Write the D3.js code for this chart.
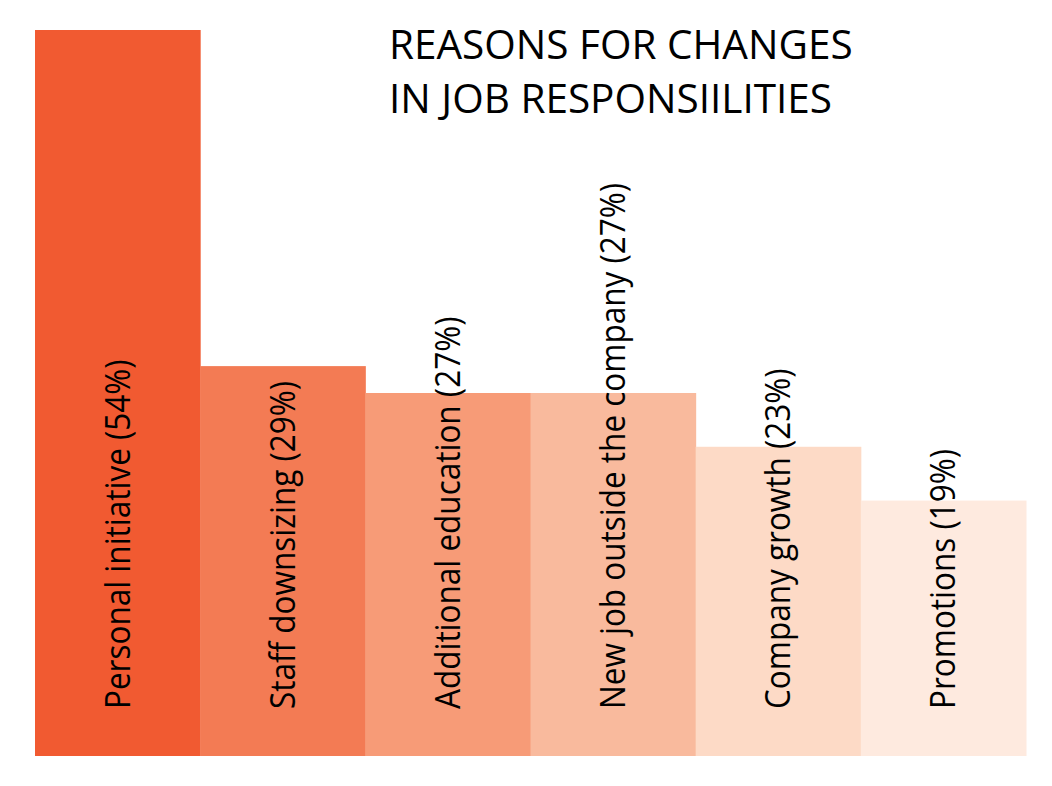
<!DOCTYPE html>
<html>
  <head>
    <meta charset="utf-8">
    <title>Reasons for changes in job responsibilities</title>
    <style>
      body {
        overflow: hidden;
        margin: 0px;
        background: white;
      }

      .title {
        font-family: "Open Sans", sans-serif;
        font-size: 40.5px;
        fill: black;
      }

      .label {
        font-family: "Open Sans", sans-serif;
        font-size: 35px;
        fill: black;
      }
    </style>
  </head>
  <body>
    <svg id="container"></svg>
    <script src="https://cdn.jsdelivr.net/npm/d3@7/dist/d3.min.js"></script>

    <script type="text/javascript">
      var categories = ['Personal initiative', 'Staff downsizing', 'Additional education',
        'New job outside the company', 'Company growth', 'Promotions'];
      var values = [54, 29, 27, 27, 23, 19];
      var colors = ['#F15A31', '#F37B54', '#F79B77', '#F9BA9D', '#FDDAC6', '#FEEADF'];
      var titleLines = ['REASONS FOR CHANGES', 'IN JOB RESPONSIILITIES'];

      var width = 1052,
        height = 786,
        bottom = 756,
        squeeze = 0.9, // labels in the original are set in a narrower face
        container = d3.select('#container');

      container.attr('width', width)
        .attr('height', height);

      var x = d3.scaleBand()
        .domain(categories)
        .range([35, 1026])
        .padding(0);

      var y = d3.scaleLinear()
        .domain([0, 54])
        .range([bottom, 30]);

      /*
        Bars
      */
      container.selectAll('rect.bar')
        .data(categories)
        .enter().append('rect')
        .attr('class', 'bar')
        .attr('x', function(d) { return x(d); })
        .attr('y', function(d, i) { return y(values[i]); })
        .attr('width', x.bandwidth() + 0.5)
        .attr('height', function(d, i) { return bottom - y(values[i]); })
        .attr('fill', function(d, i) { return colors[i]; });

      /*
        Rotated labels
      */
      container.selectAll('text.label')
        .data(categories)
        .enter().append('text')
        .attr('class', 'label')
        .attr('transform', function(d) {
          var cx = x(d) + x.bandwidth() / 2 + 12;
          return 'translate(' + cx + ',' + 709 + ') rotate(-90) scale(' + squeeze + ',1)';
        })
        .text(function(d, i) { return d + ' (' + values[i] + '%)'; });

      /*
        Title
      */
      container.selectAll('text.title')
        .data(titleLines)
        .enter().append('text')
        .attr('class', 'title')
        .attr('x', 389)
        .attr('y', function(d, i) { return 59 + i * 54; })
        .text(function(d) { return d; });
    </script>
  </body>
</html>
